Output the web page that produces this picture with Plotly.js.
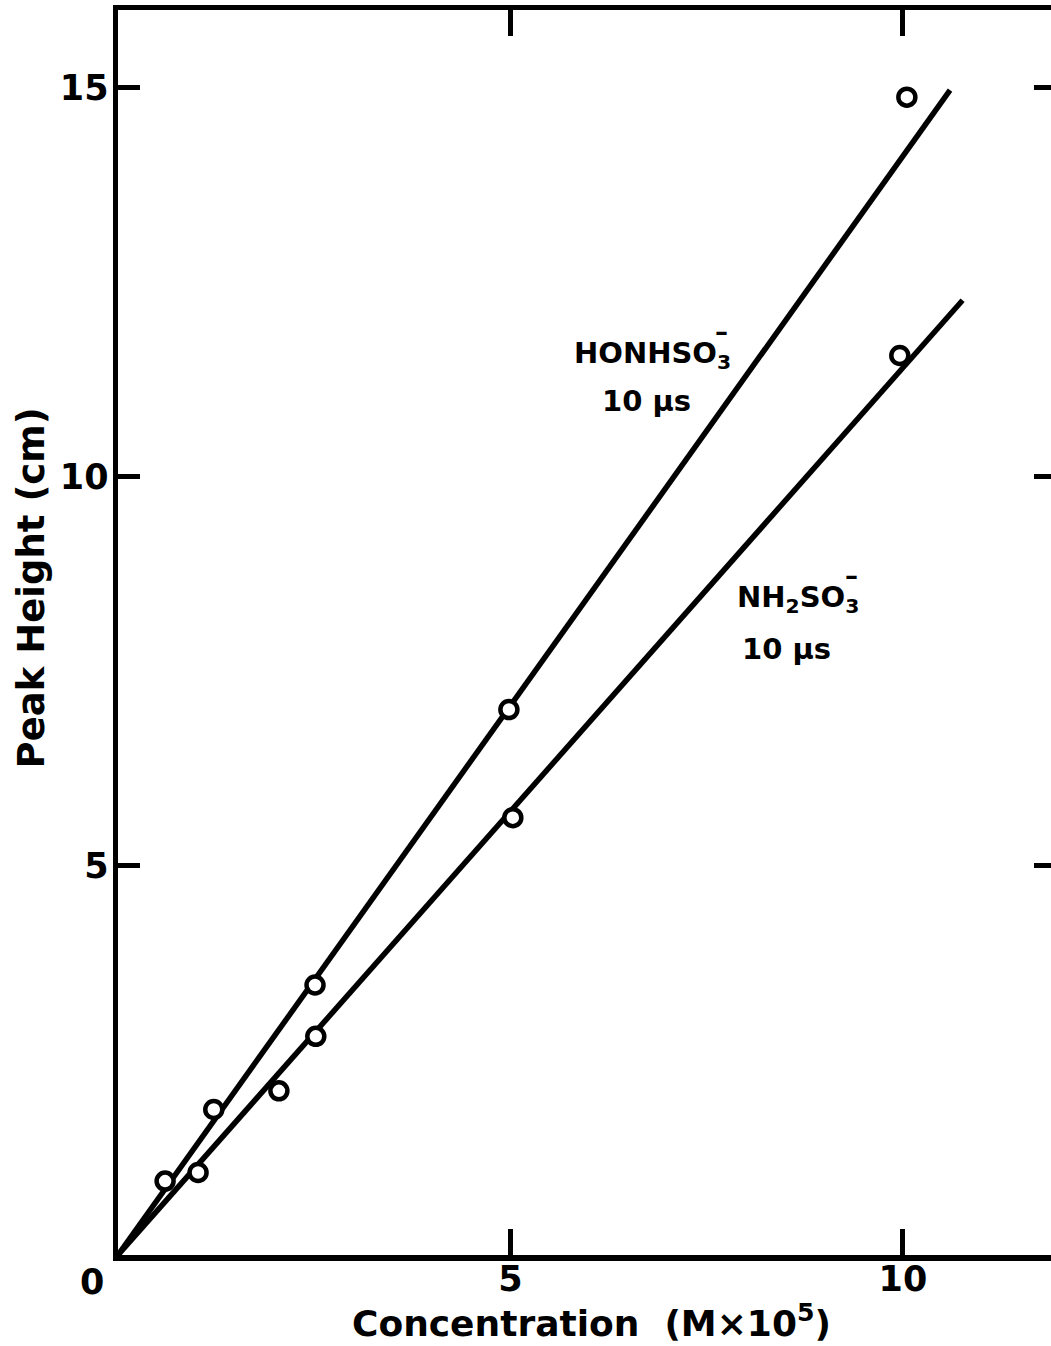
<!DOCTYPE html>
<html>
<head>
<meta charset="utf-8">
<script src="https://cdn.plot.ly/plotly-3.0.1.min.js"></script>
<style>
html, body { margin: 0; padding: 0; overflow: hidden; background: #fff; }
#chart { width: 1056px; height: 1346px; }
</style>
</head>
<body>
<div id="chart"></div>
<script>
// Measured data: HONHSO3- (10 µs)
const honhso3Conc = [0.60, 1.22, 2.51, 4.98, 10.05];
const honhso3Height = [0.95, 1.87, 3.47, 7.01, 14.88];
// Measured data: NH2SO3- (10 µs)
const nh2so3Conc = [1.02, 2.05, 2.52, 5.03, 9.96];
const nh2so3Height = [1.06, 2.11, 2.81, 5.62, 11.56];
// Drawn calibration lines (through origin)
const honhso3LineX = [0, 10.6];
const honhso3LineY = [0, 14.97];
const nh2so3LineX = [0, 10.76];
const nh2so3LineY = [0, 12.27];
// Ticks
const xTickVals = [5, 10];
const xTickText = ['5', '10'];
const yTickVals = [5, 10, 15];
const yTickText = ['5', '10', '15'];

const FONT = 'DejaVu Sans, Noto Sans, sans-serif';

const lineStyle = {color: '#000', width: 5.5};
const markerStyle = {symbol: 'circle', size: 17, color: '#fff', line: {color: '#000', width: 4.5}};

const traces = [
  {x: honhso3LineX, y: honhso3LineY, mode: 'lines', line: lineStyle, hoverinfo: 'skip', showlegend: false},
  {x: nh2so3LineX, y: nh2so3LineY, mode: 'lines', line: lineStyle, hoverinfo: 'skip', showlegend: false},
  {x: honhso3Conc, y: honhso3Height, mode: 'markers', marker: markerStyle, name: 'HONHSO3-', showlegend: false},
  {x: nh2so3Conc, y: nh2so3Height, mode: 'markers', marker: markerStyle, name: 'NH2SO3-', showlegend: false}
];

const annFont = {family: FONT, size: 29, color: '#000', weight: 'bold'};
const barFont = {family: FONT, size: 26, color: '#000', weight: 'bold'};

const layout = {
  width: 1056,
  height: 1346,
  margin: {l: 118, r: 0, t: 10, b: 91},
  paper_bgcolor: '#fff',
  plot_bgcolor: '#fff',
  showlegend: false,
  xaxis: {
    range: [0, 11.95],
    tickvals: xTickVals,
    ticktext: xTickText,
    ticks: 'inside',
    ticklen: 26,
    tickwidth: 5,
    tickcolor: '#000',
    showline: true,
    linewidth: 5.5,
    linecolor: '#000',
    mirror: 'ticks',
    showgrid: false,
    zeroline: false,
    ticklabelstandoff: -12,
    tickfont: {family: FONT, size: 35, color: '#000', weight: 'bold'}
  },
  yaxis: {
    range: [0, 16],
    tickvals: yTickVals,
    ticktext: yTickText,
    ticks: 'inside',
    ticklen: 22,
    tickwidth: 5,
    tickcolor: '#000',
    showline: true,
    linewidth: 5.5,
    linecolor: '#000',
    mirror: 'ticks',
    showgrid: false,
    zeroline: false,
    ticklabelstandoff: -3,
    tickfont: {family: FONT, size: 35, color: '#000', weight: 'bold'}
  },
  annotations: [
    {x: -0.092, y: 0.536, xref: 'paper', yref: 'paper', text: 'Peak Height (cm)', showarrow: false,
     textangle: -90, xanchor: 'center', yanchor: 'middle',
     font: {family: FONT, size: 37, color: '#000', weight: 'bold'}},
    {x: 0.505, y: -0.053, xref: 'paper', yref: 'paper',
     text: 'Concentration\u00a0\u00a0(M\u00d710<sup>5</sup>)', showarrow: false,
     xanchor: 'center', yanchor: 'middle',
     font: {family: FONT, size: 36, color: '#000', weight: 'bold'}},
    {x: 0, y: 0, xref: 'x', yref: 'y', text: '0', showarrow: false,
     xanchor: 'right', yanchor: 'top', xshift: -12, yshift: -5,
     font: {family: FONT, size: 35, color: '#000', weight: 'bold'}},
    {x: 7.84, y: 11.56, xref: 'x', yref: 'y', text: 'HONHSO<sub>3</sub>', showarrow: false,
     xanchor: 'right', yanchor: 'middle', font: annFont},
    {x: 7.80, y: 11.86, xref: 'x', yref: 'y', text: '\u2013', showarrow: false,
     xanchor: 'right', yanchor: 'middle', font: barFont},
    {x: 6.73, y: 10.98, xref: 'x', yref: 'y', text: '10\u00a0\u03bcs', showarrow: false,
     xanchor: 'center', yanchor: 'middle', font: annFont},
    {x: 9.47, y: 8.43, xref: 'x', yref: 'y', text: 'NH<sub>2</sub>SO<sub>3</sub>', showarrow: false,
     xanchor: 'right', yanchor: 'middle', font: annFont},
    {x: 9.45, y: 8.72, xref: 'x', yref: 'y', text: '\u2013', showarrow: false,
     xanchor: 'right', yanchor: 'middle', font: barFont},
    {x: 8.52, y: 7.79, xref: 'x', yref: 'y', text: '10\u00a0\u03bcs', showarrow: false,
     xanchor: 'center', yanchor: 'middle', font: annFont}
  ]
};

Plotly.newPlot('chart', traces, layout, {displayModeBar: false, staticPlot: true});
</script>
</body>
</html>
